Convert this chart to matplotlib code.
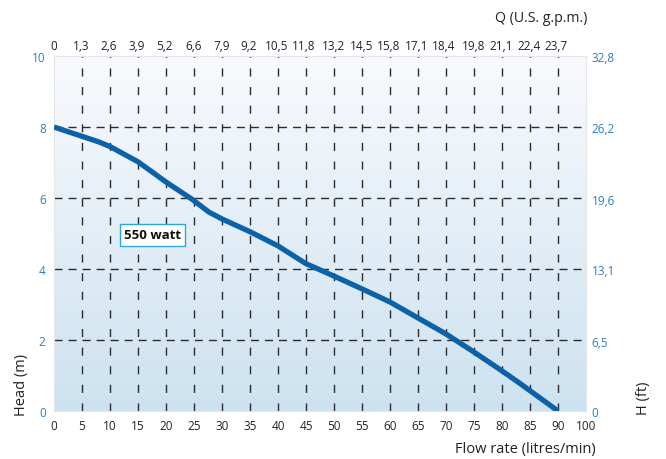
import numpy as np
import matplotlib.pyplot as plt
from matplotlib.colors import LinearSegmentedColormap

plt.rcParams['font.family'] = ['Open Sans', 'DejaVu Sans']

# pump curve
flow = [0, 8, 10, 15, 18, 20, 24.6, 27.7, 30, 35, 40, 45, 50, 55, 60, 65, 70, 75, 80, 83, 90]
head = [8.0, 7.58, 7.45, 7.02, 6.68, 6.45, 5.97, 5.6, 5.41, 5.05, 4.65, 4.15, 3.8, 3.44, 3.07, 2.62, 2.17, 1.66, 1.13, 0.8, 0.0]

x_ticks = list(range(0, 95, 5))
x_labels = [str(t) for t in x_ticks] + ['100']
y_ticks = [0, 2, 4, 6, 8, 10]
ft_ticks = [0, 6.5, 13.1, 19.6, 26.2, 32.8]
gpm_ticks = [0, 1.3, 2.6, 3.9, 5.2, 6.6, 7.9, 9.2, 10.5, 11.8, 13.2, 14.5,
             15.8, 17.1, 18.4, 19.8, 21.1, 22.4, 23.7]

XMAX = 95
LPM_PER_GPM = 3.785
BLUE = '#2a7ec0'
CURVE = '#0b62a8'

fig = plt.figure(figsize=(6.66, 4.6), dpi=100)
ax = fig.add_axes([54/666, 48/460, 532/666, 355/460])

# background gradient
cmap = LinearSegmentedColormap.from_list('bg', ['#cde2f0', '#f9fafd'])
grad = np.linspace(0, 1, 256).reshape(-1, 1)
ax.imshow(grad, cmap=cmap, aspect='auto', origin='lower',
          extent=[0, XMAX, 0, 10], zorder=0)

for xv in x_ticks[1:]:
    ax.plot([xv, xv], [0, 10], color='#2b2b2b', lw=1.0,
            dashes=(5.8, 7.6), zorder=1)
for yv in y_ticks[1:-1]:
    ax.plot([0, XMAX], [yv, yv], color='#2b2b2b', lw=1.0,
            dashes=(5.8, 4.3), zorder=1)

ax.plot(flow, head, color=CURVE, lw=3.8, solid_capstyle='butt',
        solid_joinstyle='round', zorder=3)

ax.text(17.6, 4.96, '550 watt', ha='center', va='center', fontsize=9.5,
        fontweight='bold', color='#111111', zorder=4,
        bbox=dict(boxstyle='square,pad=0.32', fc='white', ec='#2aa7e0', lw=1.0))

ax.set_xlim(0, XMAX)
ax.set_ylim(0, 10)
ax.set_xticks(x_ticks + [XMAX])
ax.set_xticklabels(x_labels)
ax.set_yticks(y_ticks)
ax.tick_params(axis='x', length=0, pad=6, labelsize=8.5, labelcolor='#222222')
ax.tick_params(axis='y', length=0, pad=6, labelsize=8.5, labelcolor=BLUE)
for s in ax.spines.values():
    s.set_color('#e4e6ea')
    s.set_linewidth(0.8)

ax_r = ax.twinx()
ax_r.set_ylim(0, 32.8)
ax_r.set_yticks(ft_ticks)
ax_r.set_yticklabels([str(v).replace('.', ',') if v else '0' for v in ft_ticks])
ax_r.tick_params(axis='y', length=0, pad=4, labelsize=8.5, labelcolor=BLUE)

ax_t = ax.twiny()
ax_t.set_xlim(0, XMAX / LPM_PER_GPM)
ax_t.set_xticks(gpm_ticks)
ax_t.set_xticklabels([str(v).replace('.', ',') if v else '0' for v in gpm_ticks])
ax_t.tick_params(axis='x', length=0, pad=3, labelsize=8.5, labelcolor='#222222')

for a in (ax_r, ax_t):
    for s in a.spines.values():
        s.set_visible(False)

fig.text(22/666, 1 - 385/460, 'Head (m)', rotation=90, ha='center', va='center',
         fontsize=10.5, color='#222222')
fig.text(643/666, 1 - 398/460, 'H (ft)', rotation=90, ha='center', va='center',
         fontsize=10.5, color='#222222')
fig.text(596/666, 1 - 450/460, 'Flow rate (litres/min)', ha='right', va='center',
         fontsize=10.5, color='#222222')
fig.text(587/666, 1 - 18/460, 'Q (U.S. g.p.m.)', ha='right', va='center',
         fontsize=10.2, color='#222222')

fig.savefig('out.png', dpi=100)
